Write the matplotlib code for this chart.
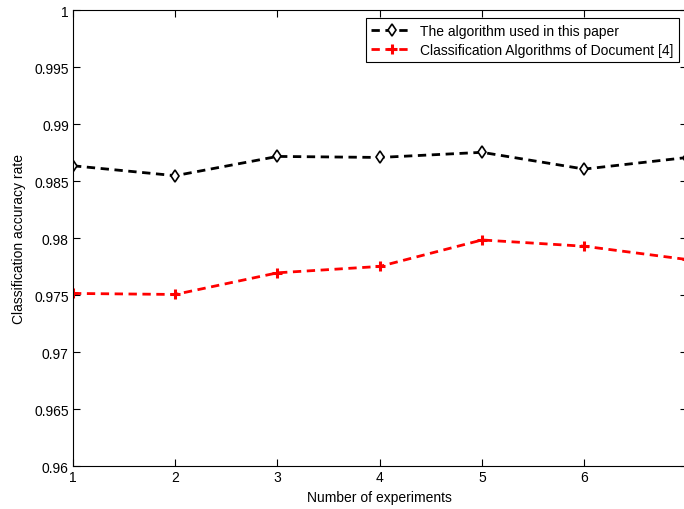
import numpy as np
import matplotlib.pyplot as plt
from matplotlib.ticker import FormatStrFormatter

plt.rcParams['font.family'] = ['Liberation Sans', 'DejaVu Sans']
plt.rcParams['font.size'] = 10

# values
experiments = [1, 2, 3, 4, 5, 6, 7]
ours = [0.98634, 0.98547, 0.98716, 0.98707, 0.98752, 0.98605, 0.98706]
doc4 = [0.97514, 0.97505, 0.97695, 0.97751, 0.97983, 0.97928, 0.97812]
labels = ['The algorithm used in this paper', 'Classification Algorithms of Document [4]']

fig = plt.figure(figsize=(6.84, 5.10), dpi=100)
ax = fig.add_axes([0.1067, 0.0843, 0.897, 0.894])

ax.plot(experiments, ours, 'd--', color='black', linewidth=2, markersize=6,
        markerfacecolor='white', markeredgewidth=1.2, dashes=(3, 2), label=labels[0])
ax.plot(experiments, doc4, '+--', color='red', linewidth=2, markersize=7,
        markeredgewidth=2.2, dashes=(3, 2), label=labels[1])

ax.set_xlim(1, 7)
ax.set_ylim(0.96, 1.0)
ax.set_xticks([1, 2, 3, 4, 5, 6])
ax.set_yticks(np.arange(0.96, 1.0001, 0.005))
ax.yaxis.set_major_formatter(FormatStrFormatter('%g'))
ax.tick_params(direction='in', top=True, right=True, length=5, width=0.8, pad=3)
for s in ax.spines.values():
    s.set_linewidth(0.8)

ax.set_xlabel('Number of experiments', labelpad=4)
ax.set_ylabel('Classification accuracy rate', labelpad=6)

leg = ax.legend(loc='upper right', bbox_to_anchor=(0.999, 0.997), fancybox=False,
                framealpha=1, edgecolor='black', borderpad=0.4, handlelength=2.9,
                handletextpad=0.6, labelspacing=0.35)
leg.get_frame().set_linewidth(0.8)

fig.savefig('out.png', dpi=100)
